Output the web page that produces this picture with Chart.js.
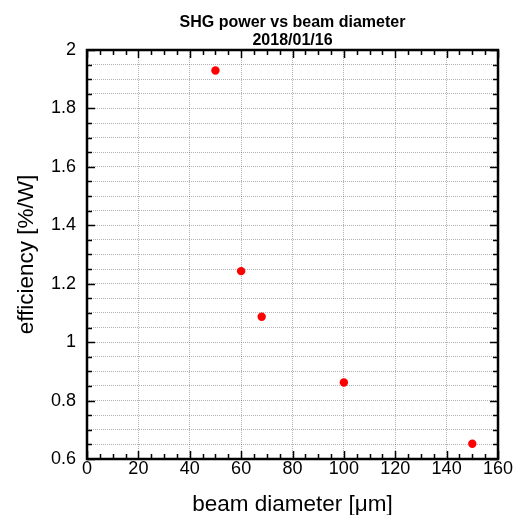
<!DOCTYPE html>
<html>
<head>
<meta charset="utf-8">
<script src="https://cdn.jsdelivr.net/npm/chart.js@4.4.1/dist/chart.umd.min.js"></script>
<style>
  html, body { margin: 0; padding: 0; background: #fff; }
  #wrap { width: 515px; height: 515px; }
</style>
</head>
<body>
<div id="wrap"><canvas id="c" width="515" height="515"></canvas></div>
<script>
const beamDiameter = [50, 60, 68, 100, 150];
const efficiency = [1.930, 1.243, 1.087, 0.862, 0.652];
const titleLines = ['SHG power vs beam diameter', '2018/01/16'];
const xTitle = 'beam diameter [μm]';
const yTitle = 'efficiency [%/W]';
const xRange = [0, 160];
const yRange = [0.6, 2];
const xMajor = 20, xMinor = 5;
const yMajor = 0.2, yMinor = 0.05;

const FONT = "'Liberation Sans', Arial, sans-serif";

const frameTicks = {
  id: 'frameTicks',
  afterDraw(chart) {
    const { ctx, chartArea: a, scales: { x, y } } = chart;
    ctx.save();
    ctx.strokeStyle = '#000';
    ctx.lineWidth = 1.5;
    ctx.beginPath();
    const nx = Math.round((xRange[1] - xRange[0]) / xMinor);
    for (let i = 0; i <= nx; i++) {
      const v = xRange[0] + i * xMinor;
      const px = Math.round(x.getPixelForValue(v)) + 0.5;
      const len = (i % Math.round(xMajor / xMinor) === 0) ? 8 : 5;
      ctx.moveTo(px, a.bottom); ctx.lineTo(px, a.bottom - len);
      ctx.moveTo(px, a.top); ctx.lineTo(px, a.top + len);
    }
    const ny = Math.round((yRange[1] - yRange[0]) / yMinor);
    for (let i = 0; i <= ny; i++) {
      const v = yRange[0] + i * yMinor;
      const py = Math.round(y.getPixelForValue(v)) + 0.5;
      const len = (i % Math.round(yMajor / yMinor) === 0) ? 8 : 5;
      ctx.moveTo(a.left, py); ctx.lineTo(a.left + len, py);
      ctx.moveTo(a.right, py); ctx.lineTo(a.right - len, py);
    }
    ctx.stroke();
    ctx.lineWidth = 2.5;
    ctx.strokeRect(a.left, a.top, a.right - a.left, a.bottom - a.top);
    ctx.restore();
  }
};

new Chart(document.getElementById('c'), {
  type: 'scatter',
  data: {
    datasets: [{
      data: beamDiameter.map((b, i) => ({ x: b, y: efficiency[i] })),
      backgroundColor: '#ff0000',
      borderWidth: 0,
      pointRadius: 4.2,
      pointHoverRadius: 4.2
    }]
  },
  options: {
    responsive: false,
    animation: false,
    devicePixelRatio: 1,
    layout: { padding: { left: 0, right: 17, top: 0, bottom: 0 } },
    plugins: {
      legend: { display: false },
      tooltip: { enabled: false },
      title: {
        display: true,
        fullSize: false,
        text: titleLines,
        color: '#000',
        font: { family: FONT, size: 16, weight: 'bold', lineHeight: 1.125 },
        padding: { top: 13.5, bottom: 0.5 }
      }
    },
    scales: {
      x: {
        type: 'linear',
        min: xRange[0], max: xRange[1],
        afterFit(s) { s.height = 56; },
        ticks: {
          stepSize: xMajor,
          color: '#000',
          font: { family: FONT, size: 18 },
          padding: -1,
          maxRotation: 0,
          autoSkip: false
        },
        grid: { color: 'rgba(0,0,0,0.3)', lineWidth: 1, drawTicks: false },
        border: { display: false, dash: [1, 1] },
        title: {
          display: true, text: xTitle, color: '#000',
          font: { family: FONT, size: 22.5, lineHeight: 1 },
          padding: { top: 0, bottom: -1.5 }
        }
      },
      y: {
        type: 'linear',
        min: yRange[0], max: yRange[1],
        afterFit(s) { s.width = 87; },
        ticks: {
          stepSize: yMinor,
          color: '#000',
          font: { family: FONT, size: 18 },
          padding: 11,
          autoSkip: false,
          callback(v) {
            const r = v / yMajor;
            return Math.abs(r - Math.round(r)) < 1e-6 ? String(Math.round(v * 10) / 10) : '';
          }
        },
        grid: { color: 'rgba(0,0,0,0.3)', lineWidth: 1, drawTicks: false },
        border: { display: false, dash: [1, 1] },
        title: {
          display: true, text: yTitle, color: '#000',
          font: { family: FONT, size: 22.5, lineHeight: 1 },
          padding: { top: 16, bottom: 0 }
        }
      }
    }
  },
  plugins: [frameTicks]
});
</script>
</body>
</html>
